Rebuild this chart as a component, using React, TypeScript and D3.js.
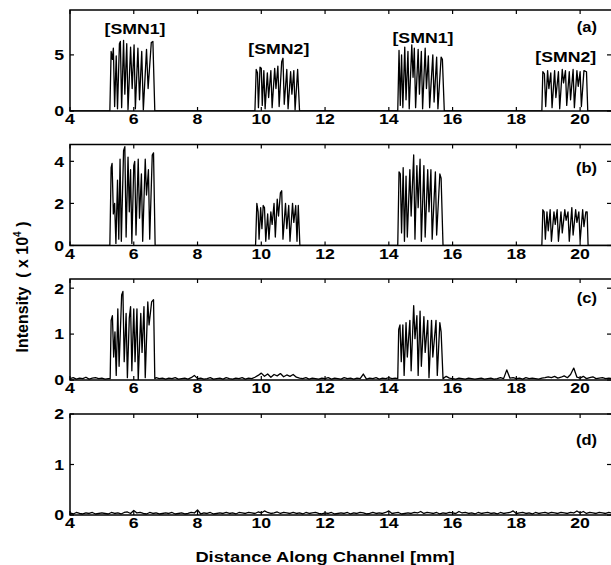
import React from 'react';
import * as d3 from 'd3';

const W = 611;
const H = 565;

const xTicks = [4, 6, 8, 10, 12, 14, 16, 18, 20];
const panelNames = ['(a)', '(b)', '(c)', '(d)'];
const yMax = [9, 4.8, 2.2, 2];
const yTicks = [[0, 5], [0, 2, 4], [0, 1, 2], [0, 1, 2]];

// panel (a)
const a1 = [[5.25,0],[5.29,5.3],[5.33,4.6],[5.36,5.6],[5.40,0.4],[5.45,4.9],[5.49,0.2],[5.55,6.0],[5.58,6.2],[5.62,0.3],[5.68,6.3],[5.72,1.5],[5.78,6.0],[5.82,0.1],[5.90,5.7],[5.95,2.0],[6.01,5.9],[6.05,0.2],[6.13,5.6],[6.18,1.0],[6.25,5.3],[6.30,0.1],[6.40,5.5],[6.45,2.0],[6.55,6.1],[6.60,6.2],[6.66,0]];
const a2 = [[9.80,0],[9.84,3.7],[9.88,3.4],[9.91,0.3],[9.96,3.9],[10.0,3.8],[10.03,0.5],[10.08,3.6],[10.12,0.2],[10.19,3.4],[10.23,1.2],[10.30,3.6],[10.34,0.3],[10.42,3.8],[10.46,2.0],[10.52,4.0],[10.56,0.4],[10.64,4.4],[10.68,4.7],[10.72,0.6],[10.80,3.7],[10.84,0.2],[10.92,3.5],[10.96,1.5],[11.02,3.6],[11.06,0.1],[11.14,3.7],[11.20,0]];
const a3 = [[14.28,0],[14.32,5.4],[14.36,0.5],[14.40,5.0],[14.44,0.3],[14.50,5.7],[14.54,1.0],[14.60,5.3],[14.64,0.2],[14.72,5.9],[14.76,3.0],[14.80,5.6],[14.84,0.3],[14.92,5.5],[14.96,1.5],[15.02,5.3],[15.06,0.2],[15.14,5.6],[15.18,2.0],[15.24,4.9],[15.28,0.3],[15.38,5.0],[15.42,0.8],[15.50,4.8],[15.54,0.2],[15.64,4.8],[15.68,4.6],[15.74,0]];
const a4 = [[18.80,0],[18.83,3.5],[18.88,3.3],[18.92,0.4],[18.98,3.6],[19.02,2.0],[19.08,3.4],[19.12,0.3],[19.20,3.6],[19.24,1.2],[19.32,3.5],[19.36,0.2],[19.44,3.7],[19.48,2.5],[19.54,3.6],[19.58,0.5],[19.66,3.5],[19.70,1.0],[19.78,3.7],[19.82,0.3],[19.90,3.6],[19.94,2.2],[20.00,3.5],[20.04,0.4],[20.12,3.6],[20.20,3.5],[20.24,0]];

// panel (b)
const b1 = [[5.25,0],[5.29,3.7],[5.32,3.9],[5.36,1.5],[5.40,2.0],[5.44,0.1],[5.49,3.1],[5.53,0.3],[5.57,4.1],[5.61,0.2],[5.68,4.5],[5.72,4.7],[5.76,0.4],[5.82,4.2],[5.86,1.6],[5.90,3.6],[5.94,0.1],[6.00,3.8],[6.03,4.0],[6.07,0.5],[6.14,4.1],[6.18,1.3],[6.24,3.4],[6.28,0.2],[6.36,4.1],[6.40,2.4],[6.46,3.6],[6.50,0.3],[6.58,4.3],[6.62,4.4],[6.67,0]];
const b2 = [[9.82,0],[9.86,2.0],[9.90,1.6],[9.93,0.3],[9.98,1.8],[10.02,0.8],[10.06,1.9],[10.10,1.8],[10.14,0.2],[10.20,1.5],[10.24,0.3],[10.30,1.6],[10.34,1.0],[10.40,2.0],[10.44,0.4],[10.50,2.2],[10.54,1.4],[10.60,2.5],[10.64,2.6],[10.68,0.3],[10.76,2.0],[10.80,0.8],[10.86,1.9],[10.90,0.2],[10.98,2.0],[11.02,1.1],[11.08,1.9],[11.12,0.2],[11.16,1.9],[11.21,0]];
const b3 = [[14.28,0],[14.32,3.5],[14.36,3.4],[14.40,0.6],[14.45,3.7],[14.49,0.2],[14.54,3.3],[14.58,0.4],[14.66,3.6],[14.70,1.4],[14.78,4.3],[14.82,0.3],[14.88,3.8],[14.92,1.8],[14.98,4.1],[15.02,0.2],[15.10,3.8],[15.14,0.4],[15.22,3.6],[15.26,1.6],[15.32,3.6],[15.36,0.3],[15.46,3.5],[15.50,0.5],[15.60,3.4],[15.64,3.2],[15.70,0]];
const b4 = [[18.80,0],[18.83,1.7],[18.87,1.6],[18.91,0.3],[18.96,1.6],[19.00,0.7],[19.06,1.7],[19.10,0.2],[19.18,1.6],[19.22,1.0],[19.28,1.7],[19.32,0.2],[19.40,1.6],[19.44,0.6],[19.52,1.7],[19.56,1.2],[19.62,1.6],[19.66,0.2],[19.74,1.8],[19.78,0.5],[19.86,1.7],[19.90,1.1],[19.96,1.6],[20.00,0.2],[20.08,1.7],[20.12,0.9],[20.18,1.6],[20.22,1.6],[20.25,0]];

// panel (c)
const c1 = [[5.26,0.03],[5.29,1.3],[5.33,1.4],[5.37,0.5],[5.41,1.05],[5.45,0.1],[5.50,1.55],[5.54,0.3],[5.62,1.85],[5.66,1.93],[5.70,0.4],[5.76,1.45],[5.80,0.05],[5.86,1.35],[5.90,1.6],[5.94,0.2],[6.00,1.55],[6.04,0.4],[6.10,1.55],[6.14,0.0],[6.22,1.45],[6.26,0.6],[6.32,1.6],[6.36,0.05],[6.44,1.7],[6.48,1.2],[6.56,1.7],[6.62,1.75],[6.66,0.03]];
const c3 = [[14.28,0.03],[14.31,1.1],[14.35,1.2],[14.39,0.4],[14.44,1.2],[14.48,0.1],[14.54,1.25],[14.58,0.5],[14.66,1.3],[14.70,0.2],[14.78,1.62],[14.82,0.9],[14.88,1.4],[14.92,0.1],[14.98,1.5],[15.02,0.3],[15.10,1.38],[15.14,0.6],[15.22,1.3],[15.26,0.05],[15.34,1.3],[15.38,0.5],[15.48,1.3],[15.52,0.1],[15.60,1.25],[15.64,1.05],[15.70,0.03]];

// background readings every 0.1 mm from 4.0 to 21.0
const noiseC = [
  0.03,0.05,0.02,0.04,0.03,0.06,0.02,0.04,0.05,0.03,
  0.04,0.02,0.03,0.05,0.03,0.04,0.02,0.03,0.04,0.03,
  0.03,0.04,0.02,0.03,0.05,0.03,0.02,0.05,0.03,0.04,
  0.02,0.04,0.03,0.05,0.02,0.03,0.04,0.02,0.05,0.10,
  0.03,0.04,0.02,0.03,0.05,0.02,0.03,0.04,0.02,0.05,
  0.03,0.02,0.04,0.03,0.05,0.02,0.04,0.03,0.06,0.10,
  0.15,0.08,0.13,0.06,0.12,0.09,0.14,0.07,0.11,0.08,
  0.12,0.06,0.04,0.03,0.05,0.02,0.04,0.03,0.02,0.04,
  0.03,0.05,0.02,0.04,0.03,0.02,0.05,0.03,0.04,0.02,
  0.04,0.03,0.13,0.02,0.04,0.03,0.05,0.02,0.04,0.03,
  0.05,0.03,0.04,0.02,0.03,0.04,0.02,0.03,0.04,0.03,
  0.03,0.04,0.02,0.03,0.04,0.03,0.02,0.03,0.08,0.04,
  0.03,0.02,0.04,0.03,0.02,0.04,0.03,0.02,0.03,0.04,
  0.02,0.03,0.04,0.02,0.03,0.05,0.03,0.22,0.04,0.05,
  0.03,0.04,0.02,0.05,0.03,0.04,0.03,0.02,0.04,0.05,
  0.07,0.05,0.08,0.04,0.06,0.09,0.05,0.12,0.26,0.06,
  0.04,0.08,0.03,0.05,0.07,0.03,0.04,0.05,0.03,0.04,
  0.03,
];
const noiseD = [
  0.04,0.02,0.05,0.03,0.02,0.04,0.03,0.05,0.02,0.03,
  0.04,0.03,0.02,0.05,0.03,0.04,0.02,0.05,0.06,0.03,
  0.09,0.04,0.05,0.03,0.02,0.05,0.03,0.04,0.02,0.03,
  0.04,0.03,0.05,0.02,0.03,0.04,0.02,0.03,0.05,0.04,
  0.10,0.02,0.04,0.03,0.05,0.02,0.03,0.04,0.03,0.05,
  0.03,0.04,0.02,0.05,0.04,0.03,0.05,0.04,0.03,0.06,
  0.04,0.08,0.05,0.03,0.04,0.06,0.03,0.05,0.04,0.03,
  0.05,0.03,0.04,0.02,0.05,0.03,0.04,0.05,0.03,0.02,
  0.04,0.03,0.05,0.02,0.03,0.04,0.03,0.05,0.02,0.04,
  0.03,0.05,0.04,0.02,0.03,0.05,0.03,0.04,0.03,0.05,
  0.08,0.03,0.04,0.05,0.02,0.03,0.04,0.03,0.05,0.04,
  0.07,0.03,0.05,0.04,0.03,0.05,0.02,0.04,0.03,0.05,
  0.04,0.03,0.07,0.04,0.05,0.03,0.04,0.02,0.05,0.03,
  0.04,0.05,0.03,0.04,0.02,0.05,0.03,0.04,0.05,0.08,
  0.03,0.04,0.05,0.03,0.04,0.02,0.05,0.03,0.04,0.05,
  0.03,0.05,0.04,0.03,0.05,0.04,0.03,0.05,0.04,0.08,
  0.04,0.07,0.03,0.05,0.04,0.03,0.05,0.04,0.03,0.05,
  0.04,
];

const panelPeaks = [[a1, a2, a3, a4], [b1, b2, b3, b4], [c1, c3], []];
const panelNoise = [null, null, noiseC, noiseD];

const annotations = [
  { text: '[SMN1]', x: 6.04, y: 6.9 },
  { text: '[SMN2]', x: 10.55, y: 5.1 },
  { text: '[SMN1]', x: 15.07, y: 6.1 },
  { text: '[SMN2]', x: 19.55, y: 4.4 },
];

// layout
const left = 70;
const right = 612;
const tops = [10, 144.5, 279, 414];
const ph = 101;
const nameOffset = [17, 23, 19, 26];
const font = '"Liberation Sans", Arial, sans-serif';
const stretch = 1.18;

const x = d3.scaleLinear().domain([4, 21]).range([left, right]);

function buildSeries(clusters, noise) {
  const base = noise
    ? noise.map((v, i) => [4 + i * 0.1, v])
    : [[4, 0], [21, 0]];
  const outside = base.filter(([px]) => !clusters.some(c => px >= c[0][0] && px <= c[c.length - 1][0]));
  return [...outside, ...clusters.flat()].sort((p, q) => p[0] - q[0]);
}

const Txt = ({ x: tx, y: ty, size, anchor = 'middle', children }) => (
  <text
    transform={`translate(${tx},${ty}) scale(${stretch},1)`}
    textAnchor={anchor}
    fontFamily={font}
    fontWeight="bold"
    fontSize={size}
    fill="#000"
  >
    {children}
  </text>
);

const Panel = ({ i }) => {
  const top = tops[i];
  const bottom = top + ph;
  const y = d3.scaleLinear().domain([0, yMax[i]]).range([bottom, top]);
  const series = buildSeries(panelPeaks[i], panelNoise[i]);
  const line = d3.line().x(d => x(d[0])).y(d => y(d[1]));
  return (
    <g>
      <clipPath id={`clip${i}`}>
        <rect x={left} y={top} width={right - left} height={ph} />
      </clipPath>
      <path d={line(series)} fill="none" stroke="#000" strokeWidth={1.3} strokeLinejoin="round" clipPath={`url(#clip${i})`} />
      <rect x={left} y={top} width={right - left} height={ph} fill="none" stroke="#000" strokeWidth={1.5} />
      {xTicks.map(t => (
        <g key={t}>
          <line x1={x(t)} x2={x(t)} y1={bottom} y2={bottom - 4} stroke="#000" strokeWidth={1.2} />
          <line x1={x(t)} x2={x(t)} y1={top} y2={top + 4} stroke="#000" strokeWidth={1.2} />
          <Txt x={x(t)} y={bottom + 13} size={15}>{t}</Txt>
        </g>
      ))}
      {yTicks[i].map(t => (
        <g key={t}>
          <line x1={left} x2={left + 4} y1={y(t)} y2={y(t)} stroke="#000" strokeWidth={1.2} />
          <line x1={right} x2={right - 5} y1={y(t)} y2={y(t)} stroke="#000" strokeWidth={1.2} />
          <Txt x={64} y={y(t) + 5.4} size={15} anchor="end">{t}</Txt>
        </g>
      ))}
      <Txt x={597} y={top + nameOffset[i] + 5} size={14} anchor="end">{panelNames[i]}</Txt>
      {i === 0 && annotations.map((a, k) => (
        <Txt key={k} x={x(a.x)} y={y(a.y)} size={15}>{a.text}</Txt>
      ))}
    </g>
  );
};

export default function App() {
  return (
    <svg width={W} height={H} style={{ position: 'absolute', left: 0, top: 0, background: '#fff' }}>
      {[0, 1, 2, 3].map(i => <Panel key={i} i={i} />)}
      <Txt x={325} y={562} size={15.5}>Distance Along Channel [mm]</Txt>
      <text
        transform="translate(28,287) rotate(-90)"
        textAnchor="middle"
        fontFamily={font}
        fontWeight="bold"
        fontSize={16}
        style={{ whiteSpace: 'pre' }}
      >
        {'Intensity  ( x 10'}
        <tspan fontSize={10} dy={-7}>4</tspan>
        <tspan dy={7}>{' )'}</tspan>
      </text>
    </svg>
  );
}
